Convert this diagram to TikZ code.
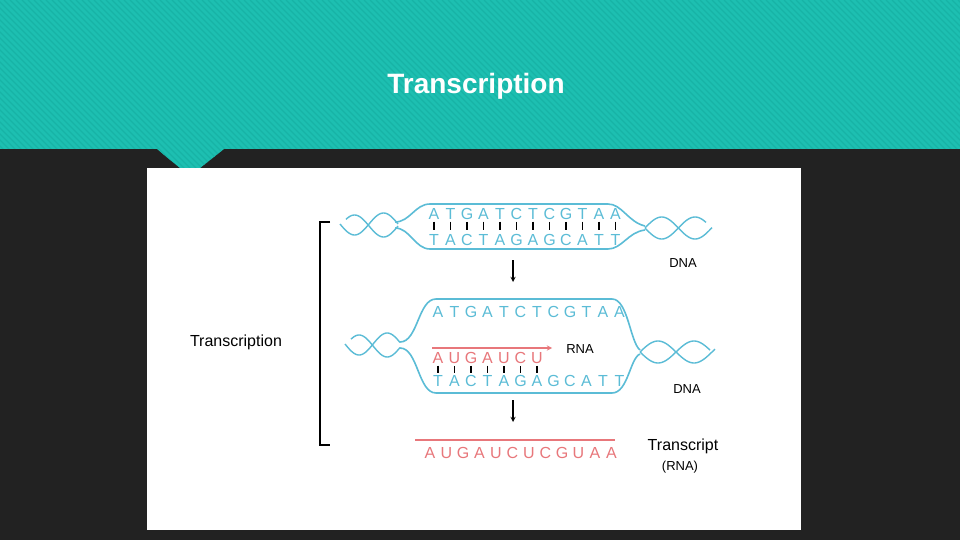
\documentclass[tikz,border=0pt]{standalone}
\usepackage{fontspec}
\setmainfont{Liberation Sans}
\definecolor{teal1}{HTML}{1DBFB1}
\definecolor{teal2}{HTML}{17B3A6}
\definecolor{dark}{HTML}{222222}
\definecolor{dna}{HTML}{5BBCD6}
\definecolor{rna}{HTML}{E8777B}
\tikzset{
  base/.style={font=\fontsize{16}{16}\selectfont, inner sep=0pt},
  dnal/.style={base, text=dna},
  rnal/.style={base, text=rna},
  lab/.style={font=\fontsize{13}{13}\selectfont, inner sep=0pt},
  outline/.style={dna, line width=1.6pt},
  helix/.style={dna, line width=1.4pt},
  tick/.style={line width=1.6pt},
  darr/.style={-stealth, line width=1.3pt}
}
\begin{document}
\begin{tikzpicture}[x=1pt,y=-1pt]
\useasboundingbox (0,0) rectangle (960,540);
\fill[dark] (0,0) rectangle (960,540);
\fill[teal1] (0,0) -- (960,0) -- (960,149) -- (224,149) -- (200,168) -- (180,168) -- (157,149) -- (0,149) -- cycle;
\begin{scope}
\clip (0,0) -- (960,0) -- (960,149) -- (224,149) -- (200,168) -- (180,168) -- (157,149) -- (0,149) -- cycle;
\foreach \i in {-200,-194,...,1000} \draw[teal2, line width=1.2pt] (\i,0) -- (\i+200,200);
\end{scope}
\node[text=white, font=\fontsize{28}{28}\selectfont\bfseries] (title) at (476,86) {Transcription};
\fill[white] (147,168) rectangle (801,530);

% bracket
\draw[line width=1.2pt] (330,222) -- (320,222) -- (320,445) -- (330,445);
\node[lab, font=\fontsize{16}{16}\selectfont] (tr) at (236,342) {Transcription};

% top DNA bubble
\draw[outline] (395,222) .. controls (410,222) and (415,204) .. (430,204) -- (608,204) .. controls (622,204) and (628,222) .. (645,226)
  (395,228) .. controls (410,228) and (415,249) .. (430,249) -- (608,249) .. controls (622,249) and (628,232) .. (645,230);
\draw[helix, domain=340:398, samples=50] plot (\x, {224+11*sin(6.2*(\x-340))});
\draw[helix, domain=346:398, samples=50] plot (\x, {226-11*sin(6.2*(\x-340))});
\draw[helix, domain=645:712, samples=50] plot (\x, {228-11*sin(5.4*(\x-645))});
\draw[helix, domain=645:706, samples=50] plot (\x, {228+11*sin(5.4*(\x-645))});
\foreach \c [count=\i] in {A,T,G,A,T,C,T,C,G,T,A,A}
  \node[dnal] (t\i) at (434+16.5*\i-16.5,214) {\c};
\foreach \c [count=\i] in {T,A,C,T,A,G,A,G,C,A,T,T}
  \node[dnal] (b\i) at (434+16.5*\i-16.5,240) {\c};
\foreach \i in {1,...,12} \draw[tick] (t\i.south) ++(0,2) -- ++(0,8);
\node[lab] (dna1) at (683,263) {DNA};
\coordinate (a1s) at (513,260); \coordinate (a1e) at (513,282);
\draw[darr] (a1s) -- (a1e);

% middle bubble
\draw[outline] (400,342) .. controls (418,342) and (418,299) .. (436,299) -- (612,299) .. controls (628,299) and (630,342) .. (640,350)
  (400,348) .. controls (418,348) and (418,393) .. (436,393) -- (612,393) .. controls (628,393) and (630,358) .. (640,354);
\draw[helix, domain=345:400, samples=50] plot (\x, {344+11*sin(6.4*(\x-345))});
\draw[helix, domain=351:400, samples=50] plot (\x, {346-11*sin(6.4*(\x-345))});
\draw[helix, domain=640:715, samples=50] plot (\x, {352-11*sin(5*(\x-640))});
\draw[helix, domain=640:710, samples=50] plot (\x, {352+11*sin(5*(\x-640))});
\foreach \c [count=\i] in {A,T,G,A,T,C,T,C,G,T,A,A}
  \node[dnal] (m\i) at (438+16.5*\i-16.5,312) {\c};
\foreach \c [count=\i] in {A,U,G,A,U,C,U}
  \node[rnal] (r\i) at (438+16.5*\i-16.5,358) {\c};
\foreach \c [count=\i] in {T,A,C,T,A,G,A,G,C,A,T,T}
  \node[dnal] (n\i) at (438+16.5*\i-16.5,381) {\c};
\foreach \i in {1,...,7} \draw[tick] (r\i.south) ++(0,2) -- ++(0,7);
\coordinate (rs) at (432,348); \coordinate (re) at (552,348);
\draw[rna, line width=1.3pt, -stealth] (rs) -- (re);
\node[lab] (rnal) at (580,349) {RNA};
\node[lab] (dna2) at (687,389) {DNA};
\coordinate (a2s) at (513,400); \coordinate (a2e) at (513,422);
\draw[darr] (a2s) -- (a2e);

% transcript
\coordinate (ls) at (415,440); \coordinate (le) at (615,440);
\draw[rna, line width=1.3pt] (ls) -- (le);
\foreach \c [count=\i] in {A,U,G,A,U,C,U,C,G,U,A,A}
  \node[rnal] (s\i) at (430+16.5*\i-16.5,453) {\c};
\node[lab, font=\fontsize{16}{16}\selectfont] (tsc) at (683,446) {Transcript};
\node[lab] (tsr) at (680,467) {(RNA)};
\end{tikzpicture}
\end{document}
